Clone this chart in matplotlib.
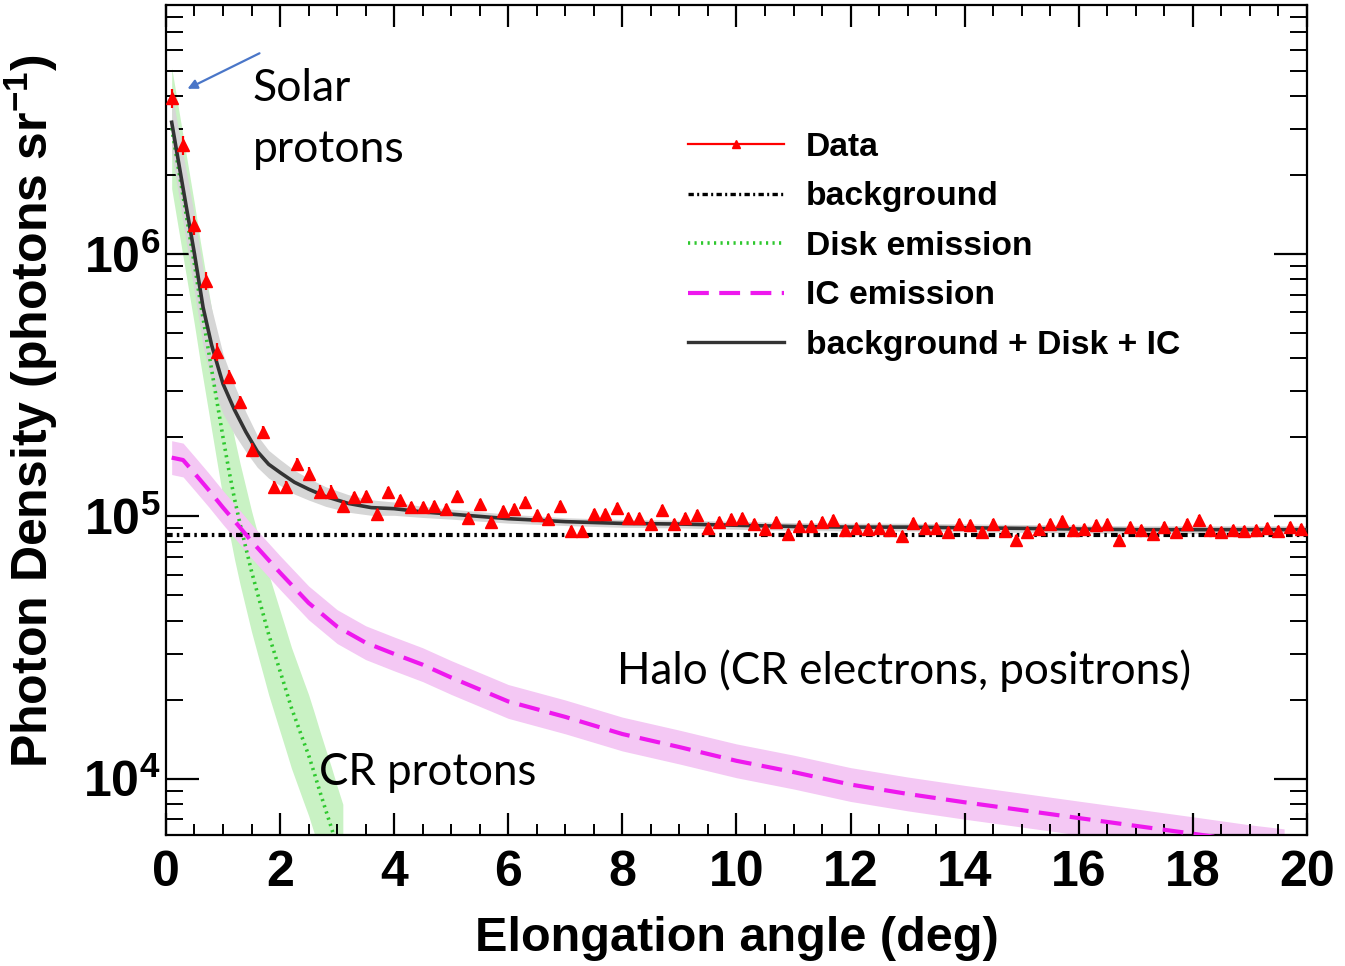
import numpy as np
import matplotlib
matplotlib.use("Agg")
import matplotlib.pyplot as plt
from matplotlib.lines import Line2D
from matplotlib.ticker import MultipleLocator, FixedLocator, NullFormatter

plt.rcParams['font.family'] = ['Liberation Sans', 'DejaVu Sans']
plt.rcParams['mathtext.fontset'] = 'custom'
plt.rcParams['mathtext.rm'] = 'Liberation Sans:bold'
plt.rcParams['mathtext.bf'] = 'Liberation Sans:bold'
plt.rcParams['mathtext.it'] = 'Liberation Sans:bold'

# --- datos ---
# puntos medidos, bins de 0.2 grados (centros 0.1, 0.3, ... 19.9)
data_x = np.round(np.arange(0.1, 20.0, 0.2), 1)
data_y = [3.93e6, 2.60e6, 1.29e6, 7.91e5, 4.25e5, 3.41e5, 2.72e5, 1.79e5, 2.09e5, 1.29e5,
          1.29e5, 1.58e5, 1.455e5, 1.24e5, 1.24e5, 1.10e5, 1.185e5, 1.20e5, 1.024e5, 1.24e5,
          1.15e5, 1.085e5, 1.085e5, 1.10e5, 1.07e5, 1.197e5, 9.89e4, 1.111e5, 9.51e4, 1.047e5,
          1.07e5, 1.134e5, 1.009e5, 9.74e4, 1.094e5, 8.79e4, 8.79e4, 1.018e5, 1.018e5, 1.079e5,
          9.89e4, 9.89e4, 9.32e4, 1.054e5, 9.32e4, 9.89e4, 1.009e5, 9.06e4, 9.51e4, 9.74e4,
          9.89e4, 9.32e4, 8.92e4, 9.51e4, 8.54e4, 9.16e4, 9.16e4, 9.51e4, 9.66e4, 8.85e4,
          9.06e4, 8.98e4, 9.04e4, 8.85e4, 8.39e4, 9.43e4, 9.02e4, 9.02e4, 8.71e4, 9.38e4,
          9.24e4, 8.71e4, 9.38e4, 8.79e4, 8.15e4, 8.71e4, 8.98e4, 9.38e4, 9.60e4, 8.85e4,
          8.98e4, 9.24e4, 9.38e4, 8.10e4, 9.10e4, 8.90e4, 8.59e4, 9.10e4, 8.71e4, 9.38e4,
          9.71e4, 8.90e4, 8.71e4, 8.90e4, 8.79e4, 8.90e4, 9.02e4, 8.79e4, 9.10e4, 8.98e4]
# error relativo de los puntos
data_err_rel = [0.08] * 5 + [0.06] * 10 + [0.045] * 85

# fondo (constante)
background = 8.46e4

# emision del disco (CR protons)
disk_x = [0.1, 0.2, 0.3, 0.4, 0.5, 0.6, 0.7, 0.8, 0.9, 1.0,
          1.1, 1.2, 1.3, 1.4, 1.5, 1.6, 1.7, 1.8, 1.9, 2.0,
          2.1, 2.2, 2.3, 2.4, 2.5, 2.6, 2.7, 2.8, 2.9, 3.0, 3.1]
disk_y = [3.02e6, 2.24e6, 1.66e6, 1.23e6, 9.12e5, 6.61e5, 4.90e5, 3.63e5, 2.69e5, 2.00e5,
          1.51e5, 1.17e5, 9.33e4, 7.59e4, 6.17e4, 5.13e4, 4.27e4, 3.55e4, 3.02e4, 2.57e4,
          2.19e4, 1.86e4, 1.62e4, 1.41e4, 1.23e4, 1.05e4, 8.9e3, 7.6e3, 6.5e3, 5.5e3, 4.7e3]
disk_band = 1.7  # factor multiplicativo de la banda

# emision IC (halo)
ic_x = [0.1, 0.3, 0.5, 0.75, 1.0, 1.25, 1.5, 2.0, 2.5, 3.0, 3.5, 4.0, 4.5, 5.0,
        6.0, 7.0, 8.0, 9.0, 10.0, 11.0, 12.0, 13.0, 14.0, 15.0, 16.0, 17.0, 18.0, 19.0, 19.6]
ic_y = [1.675e5, 1.64e5, 1.46e5, 1.26e5, 1.08e5, 9.33e4, 8.04e4, 6.10e4, 4.68e4, 3.80e4,
        3.30e4, 2.99e4, 2.72e4, 2.43e4, 1.97e4, 1.72e4, 1.48e4, 1.32e4, 1.17e4, 1.06e4,
        9.5e3, 8.75e3, 8.13e3, 7.59e3, 7.08e3, 6.61e3, 6.17e3, 5.75e3, 5.55e3]
ic_band = 1.16

# total: background + Disk + IC
tot_x = [0.1, 0.3, 0.5, 0.65, 0.8, 1.0, 1.2, 1.4, 1.6, 1.8, 2.0, 2.25, 2.5, 2.8, 3.2,
         3.6, 4.0, 4.5, 5.0, 6.0, 7.0, 8.0, 9.0, 10.0, 11.0, 12.0, 13.0, 14.0, 15.0,
         16.0, 17.0, 18.0, 19.0, 20.0]
tot_y = [3.18e6, 1.78e6, 1.0e6, 6.27e5, 4.5e5, 3.2e5, 2.55e5, 2.1e5, 1.77e5, 1.58e5,
         1.47e5, 1.35e5, 1.27e5, 1.19e5, 1.12e5, 1.08e5, 1.07e5, 1.04e5, 1.02e5, 9.8e4,
         9.55e4, 9.4e4, 9.35e4, 9.25e4, 9.15e4, 9.1e4, 9.1e4, 9.05e4, 9.0e4, 8.95e4,
         8.9e4, 8.9e4, 8.9e4, 8.9e4]
tot_band = [1.30, 1.35, 1.40, 1.40, 1.38, 1.30, 1.24, 1.19, 1.15, 1.13, 1.12, 1.11, 1.10,
            1.09, 1.08, 1.07, 1.06, 1.05, 1.045, 1.04, 1.035, 1.035, 1.035, 1.035, 1.035,
            1.035, 1.035, 1.035, 1.035, 1.035, 1.035, 1.035, 1.035, 1.035]

# --- figura ---
fig = plt.figure(figsize=(13.45, 9.66), dpi=100)
ax = fig.add_axes([0.1234, 0.1356, 0.8483, 0.8592])

disk_y = np.array(disk_y)
ic_y = np.array(ic_y)
tot_y = np.array(tot_y)
tot_band = np.array(tot_band)

ax.fill_between(disk_x, disk_y / disk_band, disk_y * disk_band, color='#c9f2c4', lw=0, zorder=1)
ax.fill_between(ic_x, ic_y / ic_band, ic_y * ic_band, color='#f4c8f4', lw=0, zorder=1)
ax.fill_between(tot_x, tot_y / tot_band, tot_y * tot_band, color='#d6d6d6', lw=0, zorder=2)

bg_style = (0, (1.6, 1.0, 0.6, 1.0))
ax.axhline(background, color='black', lw=3.0, ls=bg_style, zorder=3)
ax.plot(disk_x, disk_y, color='#2ec82e', lw=2.6, ls=(0, (0.6, 1.2)), zorder=4)
ax.plot(ic_x, ic_y, color='#ee18ee', lw=3, ls=(0, (5, 2.5)), zorder=4)
ax.plot(tot_x, tot_y, color='#333333', lw=2.6, zorder=5)

data_y = np.array(data_y)
yerr = data_y * np.array(data_err_rel)
ax.errorbar(data_x, data_y, yerr=yerr, fmt='^', color='red', ms=8, elinewidth=1.6,
            capsize=0, zorder=6)

ax.set_yscale('log')
ax.set_xlim(0, 20)
ax.set_ylim(6.1e3, 8.9e6)

ax.xaxis.set_major_locator(MultipleLocator(2))
ax.xaxis.set_minor_locator(MultipleLocator(0.5))
ax.yaxis.set_major_locator(FixedLocator([1e4, 1e5, 1e6]))
minors = [m * 10 ** e for e in (3, 4, 5, 6) for m in range(2, 10)]
ax.yaxis.set_minor_locator(FixedLocator(minors))
ax.yaxis.set_minor_formatter(NullFormatter())
ax.set_yticklabels([r'$\mathbf{10^{4}}$', r'$\mathbf{10^{5}}$', r'$\mathbf{10^{6}}$'])

ax.tick_params(axis='x', which='major', direction='in', length=16, width=1.6,
               top=True, labelsize=36, pad=11)
ax.tick_params(axis='x', which='minor', direction='in', length=8, width=1.4, top=True)
ax.tick_params(axis='y', which='major', direction='in', length=24, width=1.6,
               right=True, labelsize=36, pad=4)
ax.tick_params(axis='y', which='minor', direction='in', length=12, width=1.4, right=True)
for lab in ax.get_xticklabels():
    lab.set_fontweight('bold')
    lab.set_family(['Liberation Sans Narrow', 'Liberation Sans'])
for sp in ax.spines.values():
    sp.set_linewidth(1.6)

ax.set_xlabel('Elongation angle (deg)', fontsize=35, fontweight='bold', va='top')
ax.xaxis.set_label_coords(0.5, -0.098)
ax.set_ylabel(r'Photon Density (photons sr$^{\mathbf{-1}}$)', fontsize=36, fontweight='bold')
ax.yaxis.set_label_coords(-0.093, 0.51)

handles = [
    Line2D([], [], color='red', lw=1.6, marker='^', ms=6),
    Line2D([], [], color='black', lw=2.4, ls=bg_style),
    Line2D([], [], color='#2ec82e', lw=2.6, ls=(0, (0.6, 1.2))),
    Line2D([], [], color='#ee18ee', lw=3, ls=(0, (5, 2.5))),
    Line2D([], [], color='#333333', lw=2.4),
]
labels = ['Data', 'background', 'Disk emission', 'IC emission', 'background + Disk + IC']
leg = ax.legend(handles, labels, loc='upper left', bbox_to_anchor=(0.4575, 0.847),
                frameon=False, borderpad=0, borderaxespad=0, handlelength=2.85,
                handletextpad=0.65, labelspacing=0.55,
                prop={'family': 'Liberation Sans', 'weight': 'bold', 'size': 24.2})

# anotaciones
ann_font = ['Lato', 'DejaVu Sans']
ax.text(1.525, 5.1e6, 'Solar\nprotons', fontsize=32, family=ann_font, va='top',
        ha='left', linespacing=1.6)
ax.text(7.905, 2.59e4, 'Halo (CR electrons, positrons)', fontsize=31.7, family=ann_font,
        va='center', ha='left')
ax.text(2.68, 1.06e4, 'CR protons', fontsize=31.5, family=ann_font, va='center', ha='left')
ax.annotate('', xy=(0.333, 4.22e6), xytext=(1.683, 5.89e6),
            arrowprops=dict(arrowstyle='-|>', color='#4a76c8', lw=1.6, mutation_scale=14))

fig.savefig('out.png', dpi=100)
